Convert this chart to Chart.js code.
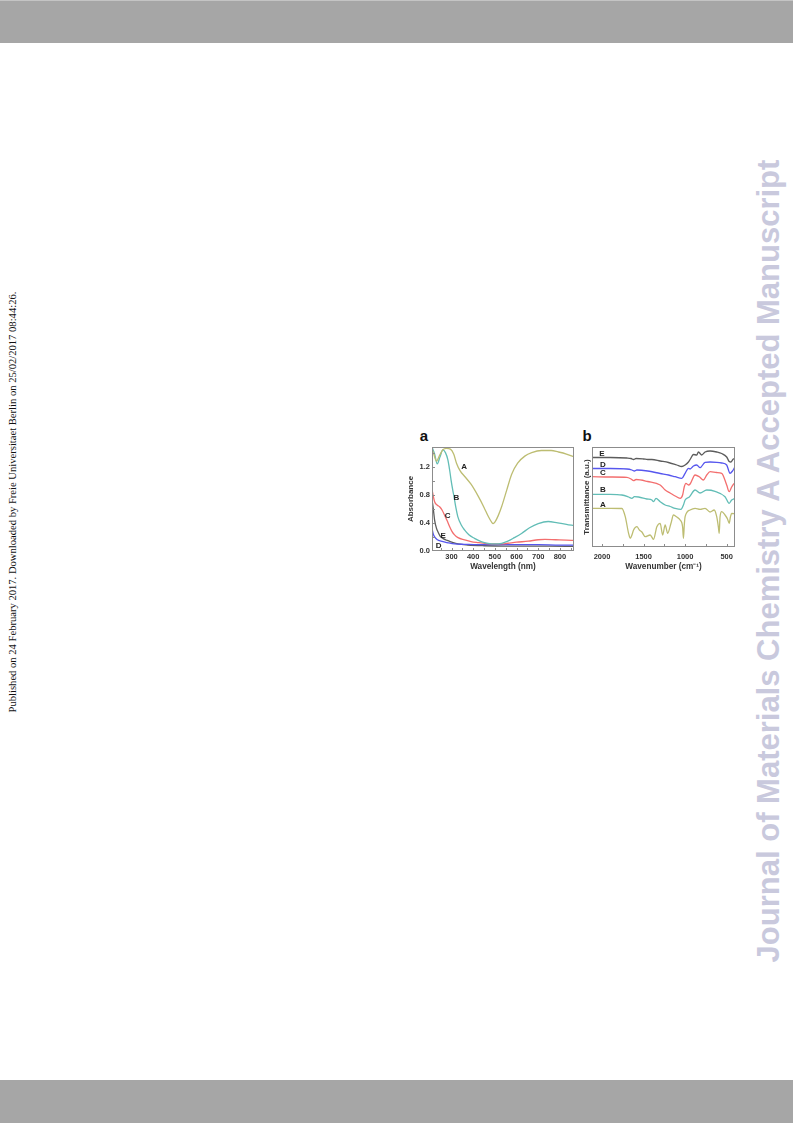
<!DOCTYPE html>
<html>
<head>
<meta charset="utf-8">
<script src="https://cdn.jsdelivr.net/npm/chart.js@4/dist/chart.umd.min.js"></script>
<style>
  body { margin: 0; background: #fff; }
  #page { position: relative; width: 793px; height: 1123px; overflow: hidden; background: #fff; }
  .bar { position: absolute; left: 0; width: 793px; background: #a6a6a6; }
  #sideLeft { position: absolute; left: 12px; top: 502px; transform: translate(-50%, -50%) rotate(-90deg);
    white-space: nowrap; font: 10.6px "Liberation Serif", serif; color: #111; }
  #sideRight { position: absolute; left: 769px; top: 561px; transform: translate(-50%, -50%) rotate(-90deg);
    white-space: nowrap; font: bold 31px "Liberation Sans", Arial, sans-serif; color: #c9c9dd; }
  .panel { position: absolute; font: bold 15px "Liberation Sans", Arial, sans-serif; color: #111;
    transform: translate(-50%, -50%); }
  canvas { position: absolute; }
</style>
</head>
<body>
<div id="page">
  <div class="bar" style="top:0;height:42px;border-top:1px solid #c4c4c4;"></div>
  <div class="bar" style="top:1080px;height:43px;"></div>
  <div id="sideLeft">Published on 24 February 2017. Downloaded by Freie Universitaet Berlin on 25/02/2017 08:44:26.</div>
  <div id="sideRight">Journal of Materials Chemistry A Accepted Manuscript</div>
  <div class="panel" style="left:424px;top:435px;">a</div>
  <div class="panel" style="left:587px;top:435px;">b</div>
  <canvas id="uv" width="180" height="155" style="left:400px;top:425px;width:180px;height:155px;"></canvas>
  <canvas id="ir" width="165" height="155" style="left:578px;top:425px;width:165px;height:155px;"></canvas>
</div>
<script>
// (a) UV-vis absorbance
const wlA = [210, 218, 231, 245, 260, 277, 295, 310, 323, 340, 361, 390, 423, 450, 470, 485, 492, 500, 515, 531, 555, 577, 605, 638, 670, 715, 760, 792, 830, 865];
const absA = [1.45, 1.38, 1.28, 1.36, 1.44, 1.46, 1.45, 1.38, 1.25, 1.14, 1.06, 0.95, 0.78, 0.62, 0.49, 0.41, 0.39, 0.41, 0.50, 0.63, 0.87, 1.09, 1.25, 1.35, 1.40, 1.43, 1.43, 1.41, 1.38, 1.34];
const wlB = [210, 222, 234, 247, 260, 272, 283, 291, 298, 305, 311, 320, 329, 345, 360, 380, 406, 440, 468, 500, 531, 560, 590, 623, 660, 700, 746, 790, 830, 865];
const absB = [1.48, 1.38, 1.24, 1.34, 1.44, 1.40, 1.30, 1.16, 1.01, 0.88, 0.78, 0.62, 0.49, 0.37, 0.30, 0.23, 0.18, 0.13, 0.11, 0.10, 0.11, 0.14, 0.19, 0.25, 0.33, 0.39, 0.42, 0.40, 0.38, 0.36];
const wlC = [210, 216, 222, 235, 245, 257, 268, 280, 291, 302, 314, 330, 360, 390, 421, 460, 500, 531, 560, 600, 654, 700, 731, 780, 830, 865];
const absC = [0.88, 0.78, 0.70, 0.65, 0.63, 0.58, 0.51, 0.43, 0.35, 0.28, 0.23, 0.19, 0.16, 0.135, 0.12, 0.105, 0.10, 0.10, 0.11, 0.125, 0.14, 0.16, 0.165, 0.16, 0.155, 0.15];
const wlD = [210, 215, 222, 235, 252, 280, 314, 360, 421, 500, 600, 700, 800, 865];
const absD = [0.32, 0.25, 0.20, 0.16, 0.14, 0.12, 0.10, 0.095, 0.09, 0.09, 0.09, 0.09, 0.085, 0.085];
const wlE = [210, 216, 222, 230, 238, 248, 260, 280, 298, 330, 375, 450, 550, 650, 750, 865];
const absE = [0.73, 0.60, 0.44, 0.33, 0.27, 0.21, 0.18, 0.15, 0.13, 0.10, 0.085, 0.075, 0.07, 0.07, 0.068, 0.065];
const uvXTicks = [300, 400, 500, 600, 700, 800];
const uvYTicks = [0.0, 0.4, 0.8, 1.2];
const uvXMarks = [250, 300, 350, 400, 450, 500, 550, 600, 650, 700, 750, 800, 850];
const uvYMarks = [0.2, 0.4, 0.6, 0.8, 1.0, 1.2, 1.4];

// (b) FTIR transmittance (arbitrary offset units)
const wnA = [2120, 1900, 1760, 1720, 1680, 1660, 1640, 1620, 1580, 1550, 1520, 1480, 1420, 1380, 1340, 1300, 1270, 1240, 1210, 1170, 1140, 1100, 1060, 1030, 1020, 1010, 1000, 940, 880, 820, 760, 700, 650, 620, 600, 590, 580, 560, 520, 490, 470, 455, 440, 400];
const trA = [38.7, 38.7, 38.5, 30.3, 13.7, 8.7, 12, 17, 20.3, 17, 15, 10.3, 12, 7.7, 20.3, 23.7, 12, 22, 13.7, 23.7, 32, 30, 27, 20, 8.7, 22, 30.3, 37, 38.7, 37.7, 38.7, 35, 37, 30.3, 20, 13.7, 30, 35.3, 32, 28, 23.7, 30, 33.7, 33];
const wnB = [2120, 1900, 1760, 1680, 1640, 1610, 1560, 1460, 1400, 1380, 1350, 1300, 1240, 1180, 1120, 1050, 1020, 1000, 950, 880, 820, 740, 640, 520, 470, 440, 400];
const trB = [52.7, 52.7, 52, 50, 48.7, 50.3, 50, 48, 47, 45.3, 48.7, 45.3, 42, 40.5, 38.7, 37.7, 42, 47, 50, 57, 54, 57, 55.7, 50.3, 43.7, 47, 48.7];
const wnC = [2120, 1900, 1700, 1650, 1620, 1590, 1450, 1300, 1240, 1180, 1120, 1060, 1030, 1010, 990, 960, 940, 880, 830, 780, 740, 700, 620, 560, 500, 470, 440, 410];
const trC = [70.3, 70, 69.7, 68, 66.3, 67.5, 65.5, 62, 57, 54, 51, 48.7, 52, 60.3, 63.7, 62, 63, 72, 70.3, 67, 72, 75.3, 74.5, 73.7, 62, 55.3, 60, 63.7];
const wnD = [2120, 1900, 1700, 1640, 1610, 1580, 1450, 1300, 1200, 1120, 1040, 1000, 960, 940, 900, 860, 820, 760, 700, 620, 560, 500, 460, 430, 400];
const trD = [78.5, 78.5, 78, 77, 76, 77, 76, 73.5, 72, 70.3, 68.7, 73.7, 78.7, 78, 81, 82, 79.3, 84.7, 85, 84.7, 84, 82, 73.7, 76, 80.3];
const wnE = [2120, 1900, 1700, 1650, 1620, 1590, 1500, 1450, 1400, 1300, 1200, 1100, 1040, 1000, 960, 940, 900, 860, 840, 800, 760, 700, 620, 560, 500, 470, 450, 420, 400];
const trE = [89.5, 89.5, 89, 88.5, 87.5, 88.5, 88, 87.5, 87.5, 86, 84.5, 82, 80.5, 82, 85, 87.5, 92.5, 92, 95, 92, 95, 96, 95, 93.5, 90, 85.5, 85, 88, 88.5];
const irXTicks = [2000, 1500, 1000, 500];
const irXMarks = [2000, 1750, 1500, 1250, 1000, 750, 500];

const colA = '#bdbd72', colB = '#62bdb6', colC = '#f36e6e', colD = '#5656ee', colE = '#5c5c5c';
const boldFont = size => ({ family: '"Liberation Sans", Arial, sans-serif', size: size, weight: 'bold' });
const noGrid = { display: false, drawTicks: false, tickLength: 0 };

function series(xs, ys, color) {
  return {
    data: xs.map((x, i) => ({ x: x, y: ys[i] })),
    borderColor: color, borderWidth: 1.3, pointRadius: 0,
    cubicInterpolationMode: 'monotone', fill: false
  };
}

const decor = {
  id: 'decor',
  afterDraw(chart, args, opts) {
    const { ctx, chartArea: ca, scales } = chart;
    ctx.save();
    ctx.strokeStyle = '#8c8c8c';
    ctx.lineWidth = 1;
    ctx.strokeRect(Math.round(ca.left) + 0.5, Math.round(ca.top) + 0.5, Math.round(ca.width) - 1, Math.round(ca.height) - 1);
    ctx.beginPath();
    (opts.xMarks || []).forEach(v => {
      const px = Math.round(scales.x.getPixelForValue(v)) + 0.5;
      ctx.moveTo(px, ca.bottom); ctx.lineTo(px, ca.bottom - 3);
    });
    (opts.yMarks || []).forEach(v => {
      const py = Math.round(scales.y.getPixelForValue(v)) + 0.5;
      ctx.moveTo(ca.left, py); ctx.lineTo(ca.left + 3, py);
    });
    ctx.stroke();
    ctx.font = 'bold 8px "Liberation Sans", Arial, sans-serif';
    ctx.fillStyle = '#222';
    ctx.textAlign = 'center';
    ctx.textBaseline = 'middle';
    (opts.labels || []).forEach(l => {
      ctx.fillText(l.t, scales.x.getPixelForValue(l.x), scales.y.getPixelForValue(l.y));
    });
    ctx.restore();
  }
};

new Chart(document.getElementById('uv'), {
  type: 'line',
  data: {
    datasets: [
      series(wlA, absA, colA), series(wlB, absB, colB), series(wlC, absC, colC),
      series(wlD, absD, colD), series(wlE, absE, colE)
    ]
  },
  options: {
    responsive: false, animation: false,
    layout: { padding: { top: 22, right: 6, left: 0, bottom: 0 } },
    plugins: {
      legend: { display: false }, tooltip: { enabled: false },
      decor: {
        xMarks: uvXMarks, yMarks: uvYMarks,
        labels: [
          { t: 'A', x: 358, y: 1.20 }, { t: 'B', x: 323, y: 0.76 }, { t: 'C', x: 282, y: 0.50 },
          { t: 'E', x: 261, y: 0.21 }, { t: 'D', x: 241, y: 0.07 }
        ]
      }
    },
    scales: {
      x: {
        type: 'linear', min: 210, max: 865,
        afterBuildTicks: s => { s.ticks = uvXTicks.map(v => ({ value: v })); },
        afterFit: s => { s.height = 29; },
        grid: noGrid, border: { display: false },
        ticks: { font: boldFont(7.5), color: '#333', padding: 1, maxRotation: 0, autoSkip: false, callback: v => String(v) },
        title: { display: true, text: 'Wavelength (nm)', font: boldFont(8.2), color: '#333', padding: { top: 0, bottom: 8 } }
      },
      y: {
        type: 'linear', min: 0, max: 1.48,
        afterBuildTicks: s => { s.ticks = uvYTicks.map(v => ({ value: v })); },
        afterFit: s => { s.width = 32; },
        grid: noGrid, border: { display: false },
        ticks: { font: boldFont(7.5), color: '#333', padding: 2, callback: v => v.toFixed(1) },
        title: { display: true, text: 'Absorbance', font: boldFont(8), color: '#333', padding: { top: 6, bottom: 0 } }
      }
    }
  },
  plugins: [decor]
});

new Chart(document.getElementById('ir'), {
  type: 'line',
  data: {
    datasets: [
      series(wnA, trA, colA), series(wnB, trB, colB), series(wnC, trC, colC),
      series(wnD, trD, colD), series(wnE, trE, colE)
    ]
  },
  options: {
    responsive: false, animation: false,
    layout: { padding: { top: 22, right: 8, left: 0, bottom: 0 } },
    plugins: {
      legend: { display: false }, tooltip: { enabled: false },
      decor: {
        xMarks: irXMarks,
        labels: [
          { t: 'E', x: 2000, y: 93.7 }, { t: 'D', x: 1988, y: 82.7 }, { t: 'C', x: 1988, y: 74.3 },
          { t: 'B', x: 1988, y: 57 }, { t: 'A', x: 1988, y: 42 }
        ]
      }
    },
    scales: {
      x: {
        type: 'linear', min: 400, max: 2120, reverse: true,
        afterBuildTicks: s => { s.ticks = irXTicks.map(v => ({ value: v })); },
        afterFit: s => { s.height = 33; },
        grid: noGrid, border: { display: false },
        ticks: { font: boldFont(7.5), color: '#333', padding: 5, maxRotation: 0, autoSkip: false, callback: v => String(v) },
        title: { display: true, text: 'Wavenumber (cm⁻¹)', font: boldFont(8.2), color: '#333', padding: { top: 0, bottom: 8 } }
      },
      y: {
        type: 'linear', min: 0, max: 100,
        afterFit: s => { s.width = 14; },
        grid: noGrid, border: { display: false },
        ticks: { display: false },
        title: { display: true, text: 'Transmittance (a.u.)', font: boldFont(8), color: '#333', padding: { top: 4, bottom: 0 } }
      }
    }
  },
  plugins: [decor]
});
</script>
</body>
</html>
